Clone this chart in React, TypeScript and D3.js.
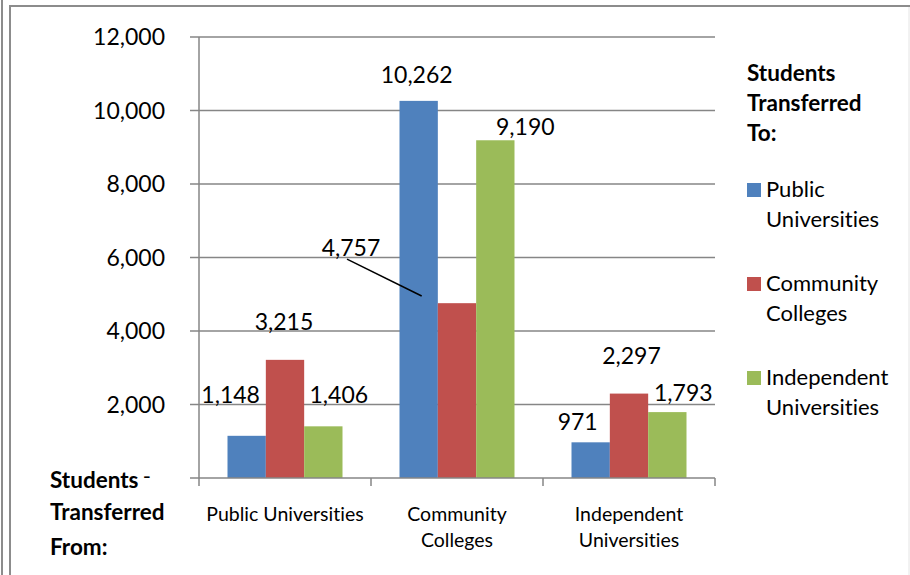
import React from "react";
import * as d3 from "d3";

const categories = ["Public Universities", "Community Colleges", "Independent Universities"];
const categoryLines = [["Public Universities"], ["Community", "Colleges"], ["Independent", "Universities"]];
const seriesNames = ["Public Universities", "Community Colleges", "Independent Universities"];
const seriesLegendLines = [["Public", "Universities"], ["Community", "Colleges"], ["Independent", "Universities"]];
const seriesColors = ["#4F81BD", "#C0504D", "#9BBB59"];
// values[category][series]
const values = [
  [1148, 3215, 1406],
  [10262, 4757, 9190],
  [971, 2297, 1793],
];
const yTicks = [0, 2000, 4000, 6000, 8000, 10000, 12000];
// label offsets relative to bar centre / bar top [dx, dy]
const labelOffsets = [
  [[-16, -33], [-1, -30], [15.5, -23]],
  [[-2, -18], [-106, -47], [30, -5]],
  [[-13, -12], [2.5, -30], [16, -11]],
];

const FONT = "Lato, 'Open Sans', sans-serif";

export default function App() {
  const W = 910, H = 575;
  const plotL = 199, plotR = 715, plotT = 37, plotB = 478;
  const x0 = d3.scaleBand<string>().domain(categories).range([plotL, plotR]).padding(0);
  const bw = x0.bandwidth();
  const x1 = d3.scaleBand<string>().domain(seriesNames).range([bw * 0.1657, bw * 0.8343]).padding(0);
  const y = d3.scaleLinear().domain([0, 12000]).range([plotB, plotT]);
  const fmt = d3.format(",");
  const grid = "#868686";

  return (
    <svg width={W} height={H} style={{ position: "absolute", left: 0, top: 0, background: "#fff", fontVariantLigatures: "none" }} fontFamily={FONT}>
      {/* frame */}
      <line x1={2} y1={0} x2={2} y2={H} stroke="#8c8c8c" strokeWidth={2} />
      <line x1={10} y1={5} x2={10} y2={H} stroke="#8c8c8c" strokeWidth={2} />
      <line x1={9} y1={6} x2={W} y2={6} stroke="#8c8c8c" strokeWidth={2} />
      <line x1={909} y1={7} x2={909} y2={H} stroke="#e4e4e4" strokeWidth={1} />

      {/* gridlines & y ticks */}
      {yTicks.map((t) => (
        <g key={t}>
          <line x1={plotL - 9} x2={t === 0 ? plotL : plotR} y1={y(t)} y2={y(t)} stroke={grid} strokeWidth={1.5} />
          {t === 0 ? (
            <text x={151} y={y(t) + 6} textAnchor="end" fontSize={22} fill="#000">-</text>
          ) : (
            <text x={165} y={y(t) + 8} textAnchor="end" fontSize={23} fill="#000">{fmt(t)}</text>
          )}
        </g>
      ))}
      {/* y axis */}
      <line x1={plotL} x2={plotL} y1={plotT} y2={plotB} stroke={grid} strokeWidth={1.5} />

      {/* bars */}
      {categories.map((c, ci) => (
        <g key={c} transform={`translate(${x0(c)},0)`}>
          {seriesNames.map((s, si) => (
            <rect key={s} x={x1(s)} y={y(values[ci][si])} width={x1.bandwidth()} height={plotB - y(values[ci][si])} fill={seriesColors[si]} />
          ))}
        </g>
      ))}

      {/* x axis */}
      <line x1={plotL} x2={plotR} y1={plotB} y2={plotB} stroke={grid} strokeWidth={1.5} />
      {[...categories.map((c) => x0(c) as number), plotR].map((xv, i) => (
        <line key={i} x1={xv} x2={xv} y1={plotB} y2={plotB + 8} stroke={grid} strokeWidth={1.5} />
      ))}
      {categoryLines.map((lines, ci) => (
        <text key={ci} textAnchor="middle" fontSize={19.5} fill="#000">
          {lines.map((ln, li) => (
            <tspan key={li} x={(x0(categories[ci]) as number) + bw / 2} y={521 + li * 26}>{ln}</tspan>
          ))}
        </text>
      ))}

      {/* leader line */}
      <line
        x1={(x0(categories[1]) as number) + (x1(seriesNames[1]) as number) + x1.bandwidth() / 2 + labelOffsets[1][1][0] - 4}
        y1={y(values[1][1]) + labelOffsets[1][1][1] + 3}
        x2={(x0(categories[1]) as number) + (x1(seriesNames[0]) as number) + x1.bandwidth() / 2 + 3}
        y2={296}
        stroke="#000"
        strokeWidth={1.5}
      />

      {/* data labels */}
      {categories.map((c, ci) =>
        seriesNames.map((s, si) => {
          const cx = (x0(c) as number) + (x1(s) as number) + x1.bandwidth() / 2 + labelOffsets[ci][si][0];
          const cy = y(values[ci][si]) + labelOffsets[ci][si][1];
          return (
            <text key={c + s} x={cx} y={cy} textAnchor="middle" fontSize={23} fill="#000">{fmt(values[ci][si])}</text>
          );
        })
      )}

      {/* legend */}
      <text fontSize={22.5} fontWeight="bold" fill="#000">
        <tspan x={747} y={81}>Students</tspan>
        <tspan x={747} y={111}>Transferred</tspan>
        <tspan x={747} y={141}>To:</tspan>
      </text>
      {seriesNames.map((s, si) => (
        <g key={s}>
          <rect x={747} y={183 + si * 94} width={14} height={14} fill={seriesColors[si]} />
          <text fontSize={22} fill="#000">
            {seriesLegendLines[si].map((ln, li) => (
              <tspan key={li} x={766} y={197 + si * 94 + li * 30}>{ln}</tspan>
            ))}
          </text>
        </g>
      ))}

      {/* x axis title */}
      <text fontSize={22.5} fontWeight="bold" fill="#000">
        <tspan x={50} y={488}>Students</tspan>
        <tspan x={50} y={520}>Transferred</tspan>
        <tspan x={50} y={555}>From:</tspan>
      </text>
    </svg>
  );
}
